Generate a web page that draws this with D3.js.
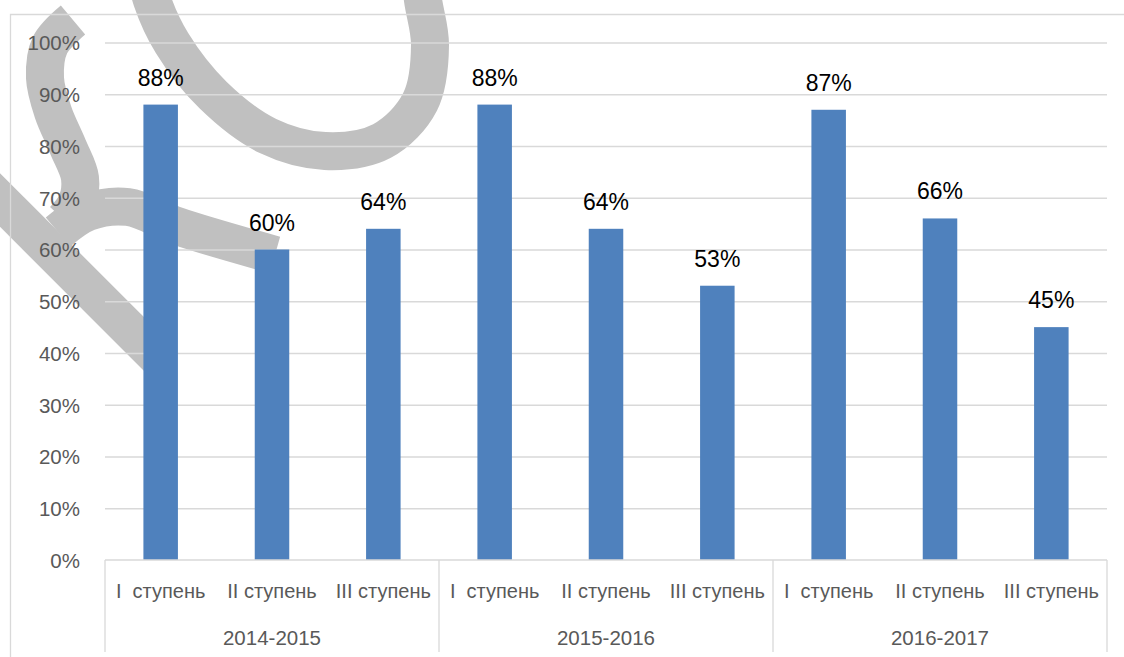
<!DOCTYPE html>
<html>
<head>
<meta charset="utf-8">
<script src="https://cdn.jsdelivr.net/npm/d3@7"></script>
<style>
  html, body { margin: 0; padding: 0; background: #ffffff; }
  svg { display: block; }
  text { font-family: "Liberation Sans", Arial, sans-serif; }
</style>
</head>
<body>
<svg id="chart" width="1124" height="657"></svg>
<script>
// ---- data ----
const years = ["2014-2015", "2015-2016", "2016-2017"];
const stages = ["I  ступень", "II ступень", "III ступень"];
const values2014 = [88, 60, 64];
const values2015 = [88, 64, 53];
const values2016 = [87, 66, 45];
const yTicks = [0, 10, 20, 30, 40, 50, 60, 70, 80, 90, 100];

const seriesByYear = [values2014, values2015, values2016];
const rows = [];
years.forEach((y, i) => stages.forEach((s, j) => rows.push({ year: y, stage: s, key: y + "|" + s, value: seriesByYear[i][j] })));

// ---- layout ----
const W = 1124, H = 657;
const plot = { left: 105, right: 1107, top: 42.5, bottom: 560 };
const gridColor = "#d9d9d9";
const textColor = "#595959";
const barColor = "#4f81bd";

const svg = d3.select("#chart");

// watermark decoration (behind everything)
const wmLine = d3.line().curve(d3.curveCatmullRom.alpha(0.5));
const wm = svg.append("g").attr("fill", "none").attr("stroke", "#c0c0c0").attr("stroke-width", 38).attr("stroke-linecap", "butt");
wm.append("path").attr("d", wmLine([[143,-40],[152,0],[172,43],[213,95],[268,136],[325,151],[382,141],[420,102],[430,45],[423,0],[418,-40]]));
wm.append("path").attr("d", wmLine([[73,20],[50,45],[45,78],[53,112],[68,147],[80,178],[77,202],[64,220]]));
wm.append("path").attr("d", wmLine([[58,232],[88,212],[128,207],[177,226],[275,255]]));
wm.append("path").attr("d", "M-30,170 L163,363");

// chart border (left and top)
svg.append("path").attr("d", `M10.5,${H} L10.5,14.5 L${W},14.5`).attr("fill", "none").attr("stroke", gridColor).attr("stroke-width", 1.3);

const x = d3.scaleBand().domain(rows.map(d => d.key)).range([plot.left, plot.right]).paddingInner(0.69).paddingOuter(0.345);
const y = d3.scaleLinear().domain([0, 100]).range([plot.bottom, plot.top]);

// gridlines
const yAxis = d3.axisLeft(y).tickValues(yTicks).tickSize(-(plot.right - plot.left)).tickFormat(d => d + "%").tickPadding(25);
const gy = svg.append("g").attr("transform", `translate(${plot.left},0)`).call(yAxis);
gy.select(".domain").remove();
gy.selectAll(".tick line").attr("stroke", gridColor).attr("stroke-width", 1.3).filter(d => d === 0).remove();
gy.selectAll(".tick text").attr("fill", textColor).attr("font-size", "20.5px").attr("dy", "0.36em");

// bars
svg.append("g").selectAll("rect").data(rows).join("rect")
  .attr("x", d => x(d.key)).attr("width", x.bandwidth())
  .attr("y", d => y(d.value)).attr("height", d => y(0) - y(d.value))
  .attr("fill", barColor);

// data labels
svg.append("g").selectAll("text").data(rows).join("text")
  .attr("x", d => x(d.key) + x.bandwidth() / 2)
  .attr("y", d => y(d.value) - 19)
  .attr("text-anchor", "middle").attr("font-size", "23px").attr("fill", "#000")
  .text(d => d.value + "%");

// category axis
const xa = svg.append("g");
xa.append("line").attr("x1", plot.left).attr("x2", plot.right).attr("y1", plot.bottom).attr("y2", plot.bottom)
  .attr("stroke", gridColor).attr("stroke-width", 1.3);
const groupEdges = years.map((yr, i) => x(yr + "|" + stages[0]) - x.step() * x.paddingInner() / 2 - (i === 0 ? x.step() * (x.paddingOuter() - x.paddingInner() / 2) : 0));
groupEdges.push(plot.right);
xa.selectAll("line.sep").data(groupEdges).join("line").attr("class", "sep")
  .attr("x1", d => d).attr("x2", d => d).attr("y1", plot.bottom).attr("y2", 652)
  .attr("stroke", gridColor).attr("stroke-width", 1.3);
xa.selectAll("text.cat").data(rows).join("text").attr("class", "cat")
  .attr("x", d => x(d.key) + x.bandwidth() / 2).attr("y", 598)
  .attr("text-anchor", "middle").attr("font-size", "20px").attr("fill", textColor)
  .style("white-space", "pre").text(d => d.stage);
xa.selectAll("text.grp").data(years).join("text").attr("class", "grp")
  .attr("x", (d, i) => (groupEdges[i] + groupEdges[i + 1]) / 2).attr("y", 645)
  .attr("text-anchor", "middle").attr("font-size", "20.5px").attr("fill", textColor)
  .text(d => d);
</script>
</body>
</html>
